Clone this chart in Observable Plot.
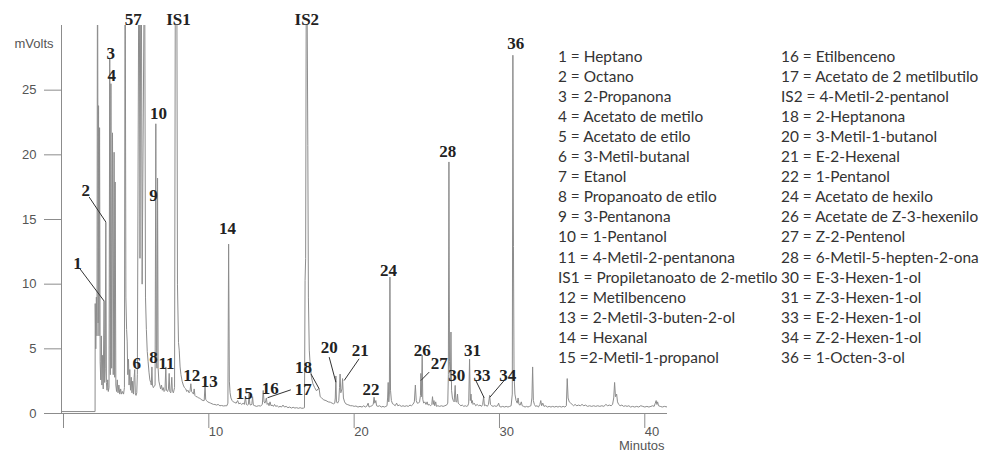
<!DOCTYPE html>
<html>
<head>
<meta charset="utf-8">
<script src="https://cdn.jsdelivr.net/npm/d3@7"></script>
<script src="https://cdn.jsdelivr.net/npm/@observablehq/plot@0.6"></script>
<style>
  html, body { margin: 0; padding: 0; background: #fff; }
  #chart { position: relative; width: 985px; height: 457px; }
</style>
</head>
<body>
<div id="chart"></div>
<script>
// Chromatogram trace: [retention time (min), signal (mV)]
const traza = [
  [0, 0.15], [2.31, 0.15],
  [2.32, 8.5], [2.36, 5.0], [2.40, 9.0], [2.44, 6.0], [2.47, 32], [2.49, 32], [2.52, 7], [2.55, 23.8],
  [2.58, 6], [2.62, 22.1], [2.66, 4.0], [2.70, 2.6], [2.74, 6.0], [2.78, 2.2], [2.83, 4.5], [2.87, 1.9],
  [2.93, 8.7], [2.97, 2.4], [3.01, 3.5], [3.05, 14.8], [3.09, 2.4], [3.13, 1.8], [3.18, 2.6], [3.22, 1.7],
  [3.27, 2.0], [3.32, 27.5], [3.36, 3.0], [3.40, 25.5], [3.45, 3.5], [3.51, 21.7], [3.56, 3.0], [3.62, 20.2],
  [3.66, 2.8], [3.69, 17.9], [3.74, 2.2], [3.79, 1.7], [3.84, 2.6], [3.89, 1.6], [3.95, 2.2], [4.01, 1.5],
  [4.07, 1.9], [4.13, 1.5], [4.20, 1.7], [4.27, 1.5], [4.33, 2.0], [4.37, 32], [4.39, 32], [4.43, 9.0],
  [4.48, 6.5], [4.52, 5.6], [4.56, 3.0], [4.61, 4.2], [4.65, 2.2], [4.70, 3.4], [4.75, 1.8], [4.80, 2.8],
  [4.85, 1.6], [4.90, 2.5], [4.95, 1.5], [5.00, 2.8], [5.04, 3.4], [5.08, 1.5], [5.13, 1.4], [5.18, 1.6],
  [5.22, 3.0], [5.31, 32], [5.36, 32], [5.40, 12], [5.45, 32], [5.50, 32], [5.55, 10], [5.68, 32],
  [5.73, 32], [5.78, 9.0], [5.84, 6.5], [5.90, 4.8], [5.96, 4.0], [6.02, 3.2], [6.08, 2.6], [6.14, 2.4],
  [6.18, 2.2], [6.22, 3.6], [6.26, 2.2], [6.32, 2.0], [6.38, 2.1], [6.44, 2.2], [6.49, 22.4], [6.53, 4.0],
  [6.57, 3.5], [6.61, 18.2], [6.65, 3.5], [6.70, 2.5], [6.76, 2.2], [6.82, 1.9], [6.88, 2.2], [6.94, 1.8],
  [7.00, 2.0], [7.06, 1.7], [7.12, 1.8], [7.18, 3.6], [7.22, 1.8], [7.30, 1.7], [7.36, 1.9], [7.41, 3.1],
  [7.45, 1.7], [7.52, 1.6], [7.59, 2.8], [7.63, 1.7], [7.70, 1.6], [7.78, 2.0], [7.83, 32], [7.89, 32],
  [7.94, 32], [7.98, 10], [8.05, 5.5], [8.10, 4.9], [8.16, 3.6], [8.22, 3.0], [8.30, 2.5], [8.38, 2.2],
  [8.46, 2.0], [8.55, 1.9], [8.62, 1.7], [8.70, 1.8], [8.78, 1.6], [8.84, 1.7], [8.90, 2.3], [8.95, 1.7],
  [9.02, 1.6], [9.08, 1.5], [9.13, 1.9], [9.18, 1.4], [9.26, 1.3], [9.34, 1.3], [9.42, 1.2], [9.50, 1.2],
  [9.58, 1.1], [9.66, 1.05], [9.74, 1.0], [9.82, 1.0], [9.88, 2.3], [9.92, 1.1], [9.98, 1.0], [10.06, 0.9],
  [10.16, 0.85], [10.26, 0.8], [10.36, 0.75], [10.46, 0.7], [10.56, 0.7], [10.66, 0.65], [10.78, 0.7], [10.90, 0.6],
  [11.02, 0.62], [11.14, 0.58], [11.26, 0.6], [11.38, 0.6], [11.45, 0.8], [11.50, 13.1], [11.55, 2.5], [11.60, 1.6],
  [11.66, 1.2], [11.74, 1.0], [11.82, 0.9], [11.92, 0.85], [12.02, 0.8], [12.12, 1.0], [12.20, 0.75], [12.30, 0.8],
  [12.40, 0.7], [12.50, 0.8], [12.58, 0.7], [12.66, 1.26], [12.72, 0.7], [12.80, 0.65], [12.86, 0.7], [12.91, 1.5],
  [12.96, 0.7], [13.04, 0.65], [13.10, 0.75], [13.15, 1.3], [13.20, 0.65], [13.30, 0.6], [13.42, 0.55], [13.55, 0.6],
  [13.70, 0.58], [13.82, 0.7], [13.88, 1.78], [13.94, 0.9], [14.00, 0.8], [14.05, 1.0], [14.10, 1.2], [14.15, 0.7],
  [14.22, 0.8], [14.28, 0.6], [14.35, 0.9], [14.42, 0.6], [14.50, 0.65], [14.58, 0.55], [14.66, 0.7], [14.74, 0.55],
  [14.84, 0.6], [14.94, 0.5], [15.04, 0.55], [15.14, 0.5], [15.24, 0.65], [15.34, 0.5], [15.46, 0.55], [15.58, 0.45],
  [15.70, 0.5], [15.82, 0.42], [15.94, 0.48], [16.06, 0.42], [16.18, 0.45], [16.30, 0.4], [16.42, 0.45], [16.54, 0.4],
  [16.66, 0.42], [16.72, 0.45], [16.76, 10.3], [16.80, 12], [16.84, 32], [16.90, 32], [16.95, 20.7], [16.99, 9.0],
  [17.05, 4.9], [17.10, 4.0], [17.20, 2.8], [17.30, 2.3], [17.42, 2.0], [17.55, 1.75], [17.65, 1.9], [17.73, 1.9],
  [17.80, 1.3], [17.90, 1.2], [18.05, 1.05], [18.20, 1.0], [18.35, 0.9], [18.50, 0.87], [18.62, 0.8], [18.72, 0.75],
  [18.80, 0.8], [18.84, 1.2], [18.88, 2.9], [18.92, 0.9], [19.00, 0.8], [19.08, 1.0], [19.13, 2.0], [19.17, 3.05],
  [19.22, 1.6], [19.30, 1.9], [19.34, 2.7], [19.40, 1.2], [19.48, 0.9], [19.56, 0.75], [19.66, 0.7], [19.78, 0.65],
  [19.90, 0.6], [20.02, 0.6], [20.14, 0.55], [20.26, 0.58], [20.40, 0.5], [20.54, 0.55], [20.68, 0.5], [20.80, 0.6],
  [20.90, 0.5], [21.00, 0.55], [21.10, 0.8], [21.16, 0.5], [21.26, 0.55], [21.36, 0.6], [21.45, 0.7], [21.51, 1.26],
  [21.56, 0.8], [21.63, 1.0], [21.68, 0.6], [21.78, 0.55], [21.90, 0.6], [22.00, 0.5], [22.12, 0.55], [22.22, 0.5],
  [22.32, 0.55], [22.40, 0.6], [22.44, 1.2], [22.48, 2.4], [22.52, 0.9], [22.56, 1.5], [22.60, 10.55], [22.64, 1.8],
  [22.70, 1.0], [22.78, 0.75], [22.86, 0.7], [22.96, 0.6], [23.06, 0.8], [23.14, 0.6], [23.26, 0.65], [23.38, 0.55],
  [23.50, 0.6], [23.62, 0.55], [23.74, 0.6], [23.86, 0.55], [23.98, 0.65], [24.08, 0.6], [24.18, 0.7], [24.28, 0.9],
  [24.35, 2.2], [24.41, 1.0], [24.48, 0.8], [24.56, 0.8], [24.64, 0.9], [24.70, 1.4], [24.73, 3.1], [24.77, 1.3],
  [24.82, 4.5], [24.86, 1.1], [24.92, 0.8], [25.00, 0.9], [25.08, 0.7], [25.16, 0.9], [25.22, 0.65], [25.30, 0.7],
  [25.40, 0.6], [25.48, 0.7], [25.53, 1.3], [25.58, 0.7], [25.63, 1.0], [25.68, 0.6], [25.75, 0.9], [25.80, 0.55],
  [25.90, 0.6], [26.02, 0.55], [26.14, 0.6], [26.26, 0.55], [26.38, 0.6], [26.50, 0.65], [26.58, 0.8], [26.62, 3.0],
  [26.66, 19.45], [26.70, 4.0], [26.76, 2.5], [26.80, 6.3], [26.84, 1.8], [26.90, 1.2], [26.96, 1.0], [27.02, 0.9],
  [27.09, 2.17], [27.14, 0.9], [27.20, 0.9], [27.25, 1.5], [27.30, 0.8], [27.38, 0.7], [27.48, 0.6], [27.58, 0.65],
  [27.68, 0.55], [27.78, 0.6], [27.88, 0.55], [27.96, 0.6], [28.02, 0.8], [28.08, 4.2], [28.13, 1.0], [28.18, 1.5],
  [28.22, 0.8], [28.27, 1.0], [28.32, 0.7], [28.40, 0.8], [28.50, 0.6], [28.60, 0.7], [28.70, 0.6], [28.80, 0.65],
  [28.90, 0.55], [28.98, 0.7], [29.05, 1.3], [29.10, 0.6], [29.20, 0.65], [29.30, 0.55], [29.38, 0.7], [29.46, 1.4],
  [29.52, 0.7], [29.60, 0.6], [29.70, 0.55], [29.80, 0.6], [29.90, 0.55], [30.00, 0.6], [30.08, 0.8], [30.14, 0.55],
  [30.24, 0.5], [30.36, 0.55], [30.48, 0.5], [30.60, 0.55], [30.72, 0.5], [30.84, 0.55], [30.94, 0.6], [31.02, 1.5],
  [31.06, 27.7], [31.10, 12.9], [31.14, 3.0], [31.20, 1.5], [31.28, 1.0], [31.36, 0.8], [31.42, 1.2], [31.48, 0.7],
  [31.56, 0.65], [31.64, 0.9], [31.70, 0.6], [31.80, 0.55], [31.90, 0.5], [32.00, 0.55], [32.10, 0.5], [32.20, 0.55],
  [32.30, 0.6], [32.37, 1.2], [32.42, 3.6], [32.47, 1.0], [32.54, 0.7], [32.62, 0.55], [32.72, 0.6], [32.82, 0.5],
  [32.92, 0.7], [32.98, 1.0], [33.04, 0.6], [33.12, 0.8], [33.20, 0.55], [33.32, 0.6], [33.44, 0.5], [33.56, 0.55],
  [33.68, 0.5], [33.80, 0.55], [33.92, 0.5], [34.04, 0.55], [34.16, 0.5], [34.28, 0.55], [34.40, 0.5], [34.52, 0.55],
  [34.64, 0.5], [34.74, 0.6], [34.80, 2.7], [34.86, 1.2], [34.94, 0.9], [35.04, 0.8], [35.14, 0.7], [35.24, 0.6],
  [35.34, 0.7], [35.46, 0.6], [35.58, 0.65], [35.70, 0.6], [35.82, 0.7], [35.94, 0.6], [36.06, 0.65], [36.20, 0.55],
  [36.34, 0.6], [36.48, 0.55], [36.62, 0.6], [36.76, 0.55], [36.90, 0.6], [37.04, 0.55], [37.18, 0.6], [37.32, 0.55],
  [37.46, 0.7], [37.58, 0.6], [37.70, 0.65], [37.82, 0.6], [37.92, 0.7], [38.00, 1.2], [38.06, 2.4], [38.12, 1.3],
  [38.20, 1.5], [38.26, 0.9], [38.34, 0.7], [38.44, 0.6], [38.56, 0.65], [38.68, 0.55], [38.80, 0.6], [38.92, 0.55],
  [39.04, 0.6], [39.16, 0.5], [39.30, 0.55], [39.44, 0.5], [39.58, 0.55], [39.72, 0.5], [39.86, 0.6], [40.00, 0.55],
  [40.14, 0.5], [40.28, 0.55], [40.42, 0.5], [40.56, 0.55], [40.68, 0.6], [40.78, 0.55], [40.86, 0.8], [40.92, 1.0],
  [40.97, 0.7], [41.02, 0.9], [41.08, 0.6], [41.20, 0.55], [41.34, 0.5], [41.48, 0.55], [41.70, 0.5]
];

// Peak identifiers and where each is written (min, mV)
const etiquetas = [
  {id: "1", t: 1.10, v: 11.63}, {id: "2", t: 1.67, v: 17.26}, {id: "3", t: 3.39, v: 27.85},
  {id: "4", t: 3.46, v: 26.16}, {id: "57", t: 4.93, v: 30.47}, {id: "IS1", t: 8.05, v: 30.47},
  {id: "10", t: 6.67, v: 23.2}, {id: "9", t: 6.33, v: 16.87}, {id: "6", t: 5.18, v: 3.85},
  {id: "8", t: 6.33, v: 4.31}, {id: "11", t: 7.23, v: 3.85}, {id: "12", t: 8.97, v: 2.94},
  {id: "13", t: 10.16, v: 2.5}, {id: "14", t: 11.43, v: 14.3}, {id: "15", t: 12.57, v: 1.57},
  {id: "16", t: 14.36, v: 1.91}, {id: "17", t: 16.63, v: 1.83}, {id: "IS2", t: 16.88, v: 30.47},
  {id: "18", t: 16.66, v: 3.58}, {id: "20", t: 18.42, v: 5.13}, {id: "21", t: 20.55, v: 4.88},
  {id: "22", t: 21.29, v: 1.83}, {id: "24", t: 22.5, v: 11.07}, {id: "26", t: 24.83, v: 4.88},
  {id: "27", t: 25.99, v: 3.85}, {id: "28", t: 26.57, v: 20.22}, {id: "30", t: 27.19, v: 2.94},
  {id: "31", t: 28.29, v: 4.88}, {id: "33", t: 28.93, v: 2.94}, {id: "34", t: 30.7, v: 2.94},
  {id: "36", t: 31.26, v: 28.61}
];

// Leader lines from a label to its peak
const guias = [
  {id: "1", t1: 1.26, v1: 11.2, t2: 2.93, v2: 8.7},
  {id: "2", t1: 1.90, v1: 16.74, t2: 3.05, v2: 14.81},
  {id: "17", t1: 15.78, v1: 1.83, t2: 14.18, v2: 1.22},
  {id: "18", t1: 17.16, v1: 3.07, t2: 17.73, v2: 1.91},
  {id: "20", t1: 18.42, v1: 4.36, t2: 18.88, v2: 2.42},
  {id: "21", t1: 20.48, v1: 4.23, t2: 19.45, v2: 2.55},
  {id: "27", t1: 25.30, v1: 3.2, t2: 24.73, v2: 2.55},
  {id: "33", t1: 28.51, v1: 2.55, t2: 29.08, v2: 1.22},
  {id: "34", t1: 30.46, v1: 2.55, t2: 29.48, v2: 1.26}
];

const ticksX = [0, 10, 20, 30, 40];
const ticksY = [0, 5, 10, 15, 20, 25];

const leyenda1 = [
  "1 = Heptano", "2 = Octano", "3 = 2-Propanona", "4 = Acetato de metilo",
  "5 = Acetato de etilo", "6 = 3-Metil-butanal", "7 = Etanol", "8 = Propanoato de etilo",
  "9 = 3-Pentanona", "10 = 1-Pentanol", "11 = 4-Metil-2-pentanona", "IS1 = Propiletanoato de 2-metilo",
  "12 = Metilbenceno", "13 = 2-Metil-3-buten-2-ol", "14 = Hexanal", "15 =2-Metil-1-propanol"
];
const leyenda2 = [
  "16 = Etilbenceno", "17 = Acetato de 2 metilbutilo", "IS2 = 4-Metil-2-pentanol", "18 = 2-Heptanona",
  "20 = 3-Metil-1-butanol", "21 = E-2-Hexenal", "22 = 1-Pentanol", "24 = Acetato de hexilo",
  "26 = Acetate de Z-3-hexenilo", "27 = Z-2-Pentenol", "28 = 6-Metil-5-hepten-2-ona", "30 = E-3-Hexen-1-ol",
  "31 = Z-3-Hexen-1-ol", "33 = E-2-Hexen-1-ol", "34 = Z-2-Hexen-1-ol", "36 = 1-Octen-3-ol"
];

const gris = "#8c8c8c";
const serif = "'Liberation Serif', 'Times New Roman', serif";
const sans = "'Liberation Sans', Arial, sans-serif";

const chart = Plot.plot({
  width: 985,
  height: 457,
  marginLeft: 61,
  marginRight: 318,
  marginTop: 25,
  marginBottom: 44,
  style: {background: "#fff", overflow: "visible"},
  x: {domain: [0, 41.7]},
  y: {domain: [0, 30]},
  marks: [
    Plot.axisY({ticks: ticksY, tickSize: 17, tickPadding: 8, stroke: gris, fill: "#555",
      fontSize: 13, fontFamily: sans, label: null}),
    Plot.axisX({ticks: ticksX, tickSize: 15, tickPadding: -2, textAnchor: "start", dx: 2,
      stroke: gris, fill: "#555", fontSize: 13, fontFamily: sans, label: null,
      tickFormat: d => d === 0 ? "" : String(d)}),
    Plot.ruleX([0], {stroke: gris}),
    Plot.ruleY([0], {stroke: gris}),
    Plot.text(["mVolts"], {frameAnchor: "top-left", dx: -8, dy: 13, textAnchor: "end",
      fontSize: 13, fontFamily: sans, fill: "#555"}),
    Plot.text(["Minutos"], {frameAnchor: "bottom-right", dx: -3, dy: 36, textAnchor: "end",
      fontSize: 13, fontFamily: sans, fill: "#555"}),
    Plot.line(traza, {x: d => d[0], y: d => d[1], stroke: gris, strokeWidth: 1, clip: true}),
    Plot.link(guias, {x1: "t1", y1: "v1", x2: "t2", y2: "v2", stroke: "#333", strokeWidth: 1}),
    Plot.text(etiquetas, {x: "t", y: "v", text: "id", fontFamily: serif, fontWeight: "bold",
      fontSize: 17, fill: "#222"})
  ]
});

// Compound key, two columns at the upper right
const g = d3.select(chart).append("g")
  .attr("text-anchor", "start")
  .attr("font-family", "Lato, 'Open Sans', sans-serif")
  .attr("font-size", 15.4)
  .attr("fill", "#333");
leyenda1.forEach((s, i) => g.append("text").attr("x", 558).attr("y", 61.5 + i * 20.1).text(s));
leyenda2.forEach((s, i) => g.append("text").attr("x", 781).attr("y", 61.5 + i * 20.1).text(s));

document.getElementById("chart").appendChild(chart);
</script>
</body>
</html>
